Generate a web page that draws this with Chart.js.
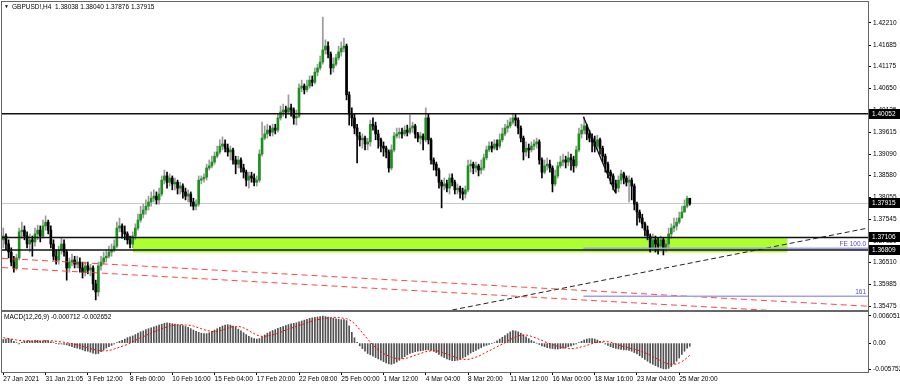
<!DOCTYPE html>
<html>
<head>
<meta charset="utf-8">
<script src="https://cdn.jsdelivr.net/npm/chart.js@4.4.1/dist/chart.umd.min.js"></script>
<style>
  body { margin: 0; background: #fff; }
  #wrap { position: relative; width: 900px; height: 387px; }
  canvas { position: absolute; left: 0; }
</style>
</head>
<body>
<div id="wrap">
  <canvas id="priceChart" width="900" height="311" style="top:0"></canvas>
  <canvas id="macdChart" width="900" height="76" style="top:311px"></canvas>
</div>
<script>
// GBPUSD H4 candles, 27 Jan - 26 Mar 2021
const opens = [
1.3705, 1.3714, 1.3695, 1.3676, 1.3652, 1.3638, 1.3662, 1.3724, 1.3728, 1.3714,
1.3695, 1.3705, 1.3700, 1.3719, 1.3728, 1.3714, 1.3738, 1.3747, 1.3728, 1.3695,
1.3666, 1.3657, 1.3681, 1.3695, 1.3676, 1.3638, 1.3652, 1.3657, 1.3647, 1.3652,
1.3638, 1.3628, 1.3643, 1.3633, 1.3638, 1.3600, 1.3581, 1.3643, 1.3652, 1.3662,
1.3666, 1.3676, 1.3681, 1.3690, 1.3733, 1.3738, 1.3724, 1.3719, 1.3705, 1.3695,
1.3714, 1.3733, 1.3752, 1.3766, 1.3776, 1.3785, 1.3795, 1.3804, 1.3809, 1.3800,
1.3814, 1.3847, 1.3857, 1.3842, 1.3852, 1.3838, 1.3842, 1.3828, 1.3833, 1.3819,
1.3809, 1.3814, 1.3795, 1.3785, 1.3790, 1.3847, 1.3850, 1.3854, 1.3876, 1.3881,
1.3890, 1.3904, 1.3914, 1.3928, 1.3933, 1.3923, 1.3914, 1.3919, 1.3895, 1.3885,
1.3895, 1.3876, 1.3866, 1.3847, 1.3857, 1.3852, 1.3842, 1.3847, 1.3909, 1.3947,
1.3957, 1.3966, 1.3961, 1.3971, 1.3966, 1.3995, 1.4009, 1.4014, 1.4009, 1.4019,
1.4014, 1.3995, 1.3999, 1.4066, 1.4071, 1.4062, 1.4071, 1.4085, 1.4080, 1.4104,
1.4114, 1.4128, 1.4157, 1.4166, 1.4147, 1.4114, 1.4123, 1.4138, 1.4152, 1.4161,
1.4166, 1.4050, 1.4004, 1.3995, 1.3971, 1.3952, 1.3943, 1.3947, 1.3933, 1.3938,
1.3980, 1.3976, 1.3957, 1.3943, 1.3928, 1.3923, 1.3914, 1.3876, 1.3919, 1.3952,
1.3957, 1.3961, 1.3957, 1.3966, 1.3961, 1.3971, 1.3976, 1.3957, 1.3947, 1.3952,
1.3943, 1.3995, 1.3943, 1.3895, 1.3885, 1.3871, 1.3842, 1.3833, 1.3838, 1.3828,
1.3852, 1.3842, 1.3824, 1.3828, 1.3819, 1.3814, 1.3824, 1.3881, 1.3885, 1.3876,
1.3881, 1.3871, 1.3876, 1.3900, 1.3919, 1.3928, 1.3923, 1.3933, 1.3928, 1.3943,
1.3957, 1.3971, 1.3976, 1.3985, 1.3995, 1.3990, 1.3971, 1.3947, 1.3914, 1.3923,
1.3919, 1.3928, 1.3933, 1.3938, 1.3895, 1.3866, 1.3881, 1.3885, 1.3876, 1.3838,
1.3857, 1.3881, 1.3890, 1.3895, 1.3890, 1.3900, 1.3895, 1.3881, 1.3919, 1.3957,
1.3966, 1.3976, 1.3957, 1.3947, 1.3938, 1.3928, 1.3943, 1.3923, 1.3904, 1.3885,
1.3866, 1.3857, 1.3838, 1.3828, 1.3847, 1.3862, 1.3852, 1.3842, 1.3847, 1.3833,
1.3790, 1.3771, 1.3757, 1.3743, 1.3728, 1.3714, 1.3686, 1.3705, 1.3695, 1.3690,
1.3705, 1.3686, 1.3695, 1.3719, 1.3733, 1.3738, 1.3747, 1.3757, 1.3771, 1.3785,
1.38038
];
const highs = [
1.3733, 1.3719, 1.3705, 1.3686, 1.3666, 1.3671, 1.3733, 1.3747, 1.3738, 1.3724,
1.3719, 1.3714, 1.3733, 1.3740, 1.3738, 1.3752, 1.3762, 1.3752, 1.3738, 1.3705,
1.3681, 1.3690, 1.3709, 1.3705, 1.3681, 1.3662, 1.3671, 1.3666, 1.3666, 1.3662,
1.3652, 1.3652, 1.3652, 1.3647, 1.3643, 1.3609, 1.3652, 1.3666, 1.3676, 1.3681,
1.3690, 1.3695, 1.3705, 1.3747, 1.3757, 1.3743, 1.3738, 1.3724, 1.3714, 1.3724,
1.3743, 1.3766, 1.3785, 1.3790, 1.3800, 1.3809, 1.3819, 1.3824, 1.3819, 1.3828,
1.3857, 1.3871, 1.3866, 1.3862, 1.3857, 1.3852, 1.3847, 1.3842, 1.3838, 1.3828,
1.3824, 1.3819, 1.3804, 1.3800, 1.3857, 1.3857, 1.3862, 1.3885, 1.3895, 1.3904,
1.3914, 1.3928, 1.3943, 1.3950, 1.3943, 1.3933, 1.3928, 1.3923, 1.3904, 1.3904,
1.3900, 1.3885, 1.3871, 1.3866, 1.3866, 1.3862, 1.3857, 1.3919, 1.3985, 1.3976,
1.3980, 1.3976, 1.3980, 1.3980, 1.4004, 1.4023, 1.4028, 1.4023, 1.4050, 1.4028,
1.4019, 1.4014, 1.4076, 1.4085, 1.4076, 1.4085, 1.4095, 1.4095, 1.4114, 1.4123,
1.4142, 1.4235, 1.4181, 1.4176, 1.4152, 1.4138, 1.4147, 1.4166, 1.4176, 1.4185,
1.4171, 1.4057, 1.4019, 1.4004, 1.3980, 1.3961, 1.3957, 1.3952, 1.3947, 1.3990,
1.3995, 1.3985, 1.3966, 1.3947, 1.3938, 1.3928, 1.3919, 1.3931, 1.3961, 1.3971,
1.3971, 1.3971, 1.3976, 1.3978, 1.4002, 1.3985, 1.3980, 1.3961, 1.3961, 1.3957,
1.4019, 1.4004, 1.3947, 1.3900, 1.3890, 1.3876, 1.3847, 1.3852, 1.3847, 1.3862,
1.3862, 1.3847, 1.3838, 1.3833, 1.3828, 1.3833, 1.3895, 1.3895, 1.3890, 1.3890,
1.3885, 1.3895, 1.3909, 1.3928, 1.3938, 1.3938, 1.3943, 1.3943, 1.3957, 1.3971,
1.3980, 1.3990, 1.3995, 1.4004, 1.4004, 1.3995, 1.3976, 1.3952, 1.3938, 1.3933,
1.3938, 1.3943, 1.3947, 1.3943, 1.3900, 1.3895, 1.3900, 1.3895, 1.3881, 1.3871,
1.3890, 1.3904, 1.3909, 1.3904, 1.3914, 1.3909, 1.3904, 1.3928, 1.3971, 1.3980,
1.3997, 1.3980, 1.3966, 1.3957, 1.3952, 1.3954, 1.3947, 1.3928, 1.3909, 1.3890,
1.3871, 1.3862, 1.3847, 1.3857, 1.3871, 1.3866, 1.3857, 1.3857, 1.3852, 1.3838,
1.3795, 1.3776, 1.3766, 1.3747, 1.3738, 1.3719, 1.3719, 1.3714, 1.3709, 1.3714,
1.3709, 1.3705, 1.3733, 1.3743, 1.3757, 1.3757, 1.3771, 1.3785, 1.3800, 1.3809,
1.38040
];
const lows = [
1.3686, 1.3681, 1.3662, 1.3643, 1.3628, 1.3633, 1.3657, 1.3709, 1.3705, 1.3686,
1.3676, 1.3666, 1.3690, 1.3705, 1.3700, 1.3709, 1.3728, 1.3719, 1.3686, 1.3657,
1.3647, 1.3647, 1.3671, 1.3666, 1.3609, 1.3628, 1.3643, 1.3638, 1.3638, 1.3628,
1.3614, 1.3619, 1.3624, 1.3619, 1.3586, 1.3562, 1.3571, 1.3633, 1.3647, 1.3652,
1.3662, 1.3666, 1.3676, 1.3686, 1.3724, 1.3709, 1.3705, 1.3695, 1.3686, 1.3686,
1.3705, 1.3728, 1.3747, 1.3757, 1.3766, 1.3776, 1.3785, 1.3795, 1.3790, 1.3790,
1.3809, 1.3838, 1.3828, 1.3833, 1.3824, 1.3824, 1.3814, 1.3814, 1.3804, 1.3800,
1.3795, 1.3785, 1.3776, 1.3776, 1.3785, 1.3838, 1.3842, 1.3847, 1.3871, 1.3876,
1.3885, 1.3900, 1.3909, 1.3919, 1.3914, 1.3904, 1.3895, 1.3885, 1.3862, 1.3876,
1.3866, 1.3852, 1.3833, 1.3828, 1.3842, 1.3833, 1.3833, 1.3842, 1.3904, 1.3943,
1.3947, 1.3952, 1.3952, 1.3957, 1.3961, 1.3990, 1.3999, 1.3995, 1.4004, 1.3999,
1.3980, 1.3978, 1.3995, 1.4057, 1.4052, 1.4057, 1.4066, 1.4071, 1.4076, 1.4095,
1.4109, 1.4123, 1.4147, 1.4138, 1.4099, 1.4104, 1.4119, 1.4133, 1.4142, 1.4152,
1.4038, 1.3978, 1.3976, 1.3957, 1.3888, 1.3928, 1.3923, 1.3919, 1.3919, 1.3928,
1.3966, 1.3943, 1.3923, 1.3914, 1.3904, 1.3900, 1.3866, 1.3871, 1.3914, 1.3947,
1.3947, 1.3947, 1.3952, 1.3952, 1.3957, 1.3961, 1.3947, 1.3938, 1.3933, 1.3919,
1.3938, 1.3933, 1.3885, 1.3871, 1.3857, 1.3828, 1.3781, 1.3824, 1.3819, 1.3814,
1.3833, 1.3814, 1.3814, 1.3804, 1.3800, 1.3804, 1.3819, 1.3866, 1.3862, 1.3866,
1.3857, 1.3862, 1.3871, 1.3895, 1.3914, 1.3914, 1.3919, 1.3919, 1.3923, 1.3938,
1.3952, 1.3961, 1.3971, 1.3980, 1.3976, 1.3957, 1.3938, 1.3895, 1.3904, 1.3900,
1.3914, 1.3919, 1.3923, 1.3885, 1.3852, 1.3862, 1.3871, 1.3866, 1.3819, 1.3833,
1.3852, 1.3876, 1.3881, 1.3876, 1.3881, 1.3871, 1.3866, 1.3876, 1.3914, 1.3947,
1.3957, 1.3943, 1.3938, 1.3914, 1.3914, 1.3919, 1.3909, 1.3890, 1.3866, 1.3852,
1.3838, 1.3824, 1.3816, 1.3819, 1.3838, 1.3838, 1.3833, 1.3795, 1.3800, 1.3776,
1.3740, 1.3747, 1.3733, 1.3714, 1.3705, 1.3676, 1.3681, 1.3676, 1.3671, 1.3681,
1.3669, 1.3676, 1.3686, 1.3709, 1.3724, 1.3728, 1.3743, 1.3762, 1.3771, 1.3781,
1.37876
];
const closes = [
1.3714, 1.3695, 1.3676, 1.3652, 1.3638, 1.3662, 1.3724, 1.3728, 1.3714, 1.3695,
1.3705, 1.3700, 1.3719, 1.3728, 1.3714, 1.3738, 1.3747, 1.3728, 1.3695, 1.3666,
1.3657, 1.3681, 1.3695, 1.3676, 1.3638, 1.3652, 1.3657, 1.3647, 1.3652, 1.3638,
1.3628, 1.3643, 1.3633, 1.3638, 1.3600, 1.3581, 1.3643, 1.3652, 1.3662, 1.3666,
1.3676, 1.3681, 1.3690, 1.3733, 1.3738, 1.3724, 1.3719, 1.3705, 1.3695, 1.3714,
1.3733, 1.3752, 1.3766, 1.3776, 1.3785, 1.3795, 1.3804, 1.3809, 1.3800, 1.3814,
1.3847, 1.3857, 1.3842, 1.3852, 1.3838, 1.3842, 1.3828, 1.3833, 1.3819, 1.3809,
1.3814, 1.3795, 1.3785, 1.3790, 1.3847, 1.3850, 1.3854, 1.3876, 1.3881, 1.3890,
1.3904, 1.3914, 1.3928, 1.3933, 1.3923, 1.3914, 1.3919, 1.3895, 1.3885, 1.3895,
1.3876, 1.3866, 1.3847, 1.3857, 1.3852, 1.3842, 1.3847, 1.3909, 1.3947, 1.3957,
1.3966, 1.3961, 1.3971, 1.3966, 1.3995, 1.4009, 1.4014, 1.4009, 1.4019, 1.4014,
1.3995, 1.3999, 1.4066, 1.4071, 1.4062, 1.4071, 1.4085, 1.4080, 1.4104, 1.4114,
1.4128, 1.4157, 1.4166, 1.4147, 1.4114, 1.4123, 1.4138, 1.4152, 1.4161, 1.4166,
1.4050, 1.4004, 1.3995, 1.3971, 1.3952, 1.3943, 1.3947, 1.3933, 1.3938, 1.3980,
1.3976, 1.3957, 1.3943, 1.3928, 1.3923, 1.3914, 1.3876, 1.3919, 1.3952, 1.3957,
1.3961, 1.3957, 1.3966, 1.3961, 1.3971, 1.3976, 1.3957, 1.3947, 1.3952, 1.3943,
1.3995, 1.3943, 1.3895, 1.3885, 1.3871, 1.3842, 1.3833, 1.3838, 1.3828, 1.3852,
1.3842, 1.3824, 1.3828, 1.3819, 1.3814, 1.3824, 1.3881, 1.3885, 1.3876, 1.3881,
1.3871, 1.3876, 1.3900, 1.3919, 1.3928, 1.3923, 1.3933, 1.3928, 1.3943, 1.3957,
1.3971, 1.3976, 1.3985, 1.3995, 1.3990, 1.3971, 1.3947, 1.3914, 1.3923, 1.3919,
1.3928, 1.3933, 1.3938, 1.3895, 1.3866, 1.3881, 1.3885, 1.3876, 1.3838, 1.3857,
1.3881, 1.3890, 1.3895, 1.3890, 1.3900, 1.3895, 1.3881, 1.3919, 1.3957, 1.3966,
1.3976, 1.3957, 1.3947, 1.3938, 1.3928, 1.3943, 1.3923, 1.3904, 1.3885, 1.3866,
1.3857, 1.3838, 1.3828, 1.3847, 1.3862, 1.3852, 1.3842, 1.3847, 1.3833, 1.3790,
1.3771, 1.3757, 1.3743, 1.3728, 1.3714, 1.3686, 1.3705, 1.3695, 1.3690, 1.3705,
1.3686, 1.3695, 1.3719, 1.3733, 1.3738, 1.3747, 1.3757, 1.3771, 1.3785, 1.3804,
1.37915
];

// MACD(12,26,9), values in units of 0.0001
const macdHist = [
8, 9, 10, 8, 4, 1, -2,
2, 4, 5, 5, 5, 6, 6, 5, 5, 6, 5, 3,
1, -1, -2, -2, -3, -4,
-6, -8, -10, -11, -13, -15, -17, -18, -20, -22, -24, -23, -19,
-15, -11, -8, -5, -2, 1,
4, 6, 9, 12, 14, 16, 19, 22, 25, 27, 30, 32, 34, 36, 38, 40, 42, 44, 45,
44, 43, 42, 41, 40, 39, 37, 35,
32, 29, 26, 24, 22, 21, 21,
23, 26, 29, 32, 35, 38, 40, 41, 40, 38,
35, 31, 27, 23, 19, 15, 12, 10, 9, 10,
14, 18, 22, 25, 28, 30, 33, 35, 37, 39, 41, 43, 44, 45, 47, 49, 51, 53, 55, 56, 57, 58, 59, 60,
59, 58, 56, 55, 54, 53, 52, 52, 50,
38, 24, 12, 2, -6, -12, -18, -23, -26, -29, -32, -35, -38, -41, -44, -46, -47,
-45, -42, -38, -34, -30, -26, -23, -21, -19, -18, -17,
-16, -15, -15, -16, -18,
-21, -25, -29, -32, -35, -37, -39, -39, -38, -36, -33, -30, -26,
-22, -19, -16, -13, -10, -7, -5, -3, -1, 1,
5, 9, 13, 17, 21, 25, 28,
27, 25, 22, 18, 14, 10, 6, 3, 0,
-3, -6, -8, -10, -11, -12, -13, -13, -12, -11, -10, -8, -6, -4, -2,
1, 4, 7, 9, 10, 10, 9, 7, 4, 1,
-2, -5, -8, -10, -12, -13, -14, -15, -15, -16,
-18, -21, -24, -28, -32, -36, -40, -44, -47, -50, -53, -55, -57, -57, -56,
-52, -46, -40, -33, -25, -18, -11, -7
];
const macdSignal = [
12, 11, 10, 9, 8, 7, 6, 6, 5, 5, 5, 4, 4, 4, 4, 5, 5, 5, 5,
5, 4, 3, 3, 2, 1,
0, -1, -2, -4, -5, -7, -9, -10, -12, -14, -15, -16, -17,
-17, -17, -16, -15, -13, -11,
-9, -7, -5, -3, 0, 3, 6, 9, 12, 14, 17, 20, 22, 25, 27, 30, 32, 34, 36,
38, 39, 40, 40, 41, 41, 40, 40,
39, 38, 36, 34, 32, 30, 28,
27, 26, 25, 26, 27, 29, 31, 33, 35, 37,
37, 37, 36, 34, 31, 28, 24, 21, 18, 16,
15, 15, 16, 17, 18, 20, 22, 24, 27, 29, 31, 33, 35, 37, 39, 41, 43, 45, 47, 49, 51, 52, 53, 54,
55, 56, 56, 57, 57, 57, 56, 55, 54,
52, 48, 43, 37, 30, 23, 16, 9, 2, -4, -10, -15, -19, -23, -26, -29, -31,
-33, -34, -35, -35, -34, -33, -31, -29, -27, -25, -23,
-21, -19, -18, -17, -17,
-17, -18, -20, -22, -24, -27, -29, -31, -33, -35, -36, -36, -36,
-35, -33, -31, -29, -26, -23, -20, -17, -14, -11,
-8, -5, -2, 1, 5, 8, 11,
14, 16, 17, 18, 18, 17, 15, 13, 11,
8, 6, 3, 1, -1, -3, -5, -7, -9, -10, -11, -12, -12, -12, -11,
-10, -8, -7, -5, -3, -1, 1, 2, 3, 4,
4, 3, 2, 0, -2, -4, -6, -8, -9, -11,
-12, -13, -15, -17, -19, -21, -24, -27, -30, -33, -36, -39, -42, -45, -46,
-47, -47, -46, -44, -41, -37, -32, -27
];

// подписи осей
const tickLabels = ['27 Jan 2021', '31 Jan 21:05', '3 Feb 12:00', '8 Feb 00:00', '10 Feb 16:00',
  '15 Feb 04:00', '17 Feb 20:00', '22 Feb 08:00', '25 Feb 00:00', '1 Mar 12:00', '4 Mar 04:00',
  '8 Mar 20:00', '11 Mar 12:00', '16 Mar 00:00', '18 Mar 16:00', '23 Mar 04:00', '25 Mar 20:00'];
const priceTicks = [1.42210, 1.41685, 1.41175, 1.40650, 1.40125, 1.39615, 1.39090, 1.38580,
  1.38055, 1.37545, 1.37020, 1.36510, 1.35985, 1.35475];
const macdTicks = [0.006051, 0, -0.005752];

// объекты на графике (бар, цена)
const levelLines = [1.40052, 1.37106, 1.36809];
const priceTags = [1.40052, 1.37915, 1.37106, 1.36809];
const bidPrice = 1.37915;
const zoneBars = [49.1, 297];
const zonePrices = [1.37106, 1.3675];
const trendUp = [[170, 1.3538], [327.5, 1.3733]];
const trendDown = [[219.7, 1.3998], [231.7, 1.3818]];
const redUpper = [[-0.5, 1.3661], [327.5, 1.3547]];
const redLower = [[-0.5, 1.3639], [327.5, 1.3524]];
const feStart = 219.7;
const feLevels = [['FE 100.0', 1.3685], ['161', 1.3571]];
const header = 'GBPUSD!,H4  1.38038 1.38040 1.37876 1.37915';
const macdTitle = 'MACD(12,26,9) -0.000712 -0.002652';

const TOTAL_BARS = 328;
const FONT = '"Liberation Sans", Arial, sans-serif';
const labels = Array.from({ length: TOTAL_BARS }, (_, i) => i);

const isBull = i => closes[i] >= opens[i];
const wicks = lows.map((l, i) => [Math.min(l, opens[i], closes[i]), Math.max(highs[i], opens[i], closes[i])]);
const bodies = opens.map((o, i) => [o, closes[i]]);

// фиксированная ширина шкалы, без лишних отступов
function fixWidth(w) {
  return s => { s.width = w; s.paddingTop = 0; s.paddingBottom = 0; };
}

function line(ctx, chart, pts) {
  const { x, y } = chart.scales;
  ctx.beginPath();
  ctx.moveTo(x.getPixelForValue(pts[0][0]), y.getPixelForValue(pts[0][1]));
  ctx.lineTo(x.getPixelForValue(pts[1][0]), y.getPixelForValue(pts[1][1]));
  ctx.stroke();
}

const priceOverlay = {
  id: 'priceOverlay',
  beforeDatasetsDraw(chart) {
    const { ctx, chartArea: a, scales: { x, y } } = chart;
    ctx.save();
    ctx.beginPath();
    ctx.rect(a.left, a.top, a.right - a.left, a.bottom - a.top);
    ctx.clip();
    // зелёная зона
    const zx1 = x.getPixelForValue(zoneBars[0]);
    const zx2 = x.getPixelForValue(zoneBars[1]);
    const zy1 = y.getPixelForValue(zonePrices[0]);
    const zy2 = y.getPixelForValue(zonePrices[1]);
    ctx.fillStyle = '#adff2f';
    ctx.fillRect(zx1, zy1, zx2 - zx1, zy2 - zy1);
    // линия Bid
    const by = Math.round(y.getPixelForValue(bidPrice)) + 0.5;
    ctx.strokeStyle = '#c8c8c8';
    ctx.lineWidth = 1;
    ctx.beginPath();
    ctx.moveTo(a.left, by);
    ctx.lineTo(a.right, by);
    ctx.stroke();
    ctx.restore();
  },
  afterDatasetsDraw(chart) {
    const { ctx, chartArea: a, scales: { x, y } } = chart;
    ctx.save();
    ctx.beginPath();
    ctx.rect(a.left, a.top, a.right - a.left, a.bottom - a.top);
    ctx.clip();

    // красные пунктирные линии
    ctx.strokeStyle = 'rgba(255, 40, 40, 0.85)';
    ctx.lineWidth = 1;
    ctx.setLineDash([6, 4]);
    line(ctx, chart, redUpper);
    line(ctx, chart, redLower);

    // восходящая пунктирная трендовая
    ctx.strokeStyle = '#222';
    ctx.setLineDash([5, 3]);
    line(ctx, chart, trendUp);
    ctx.setLineDash([]);

    // уровни FE
    const fx = x.getPixelForValue(feStart);
    ctx.strokeStyle = '#a0a0f0';
    ctx.lineWidth = 1.5;
    feLevels.forEach(([, v]) => {
      const fy = y.getPixelForValue(v);
      ctx.beginPath();
      ctx.moveTo(fx, fy);
      ctx.lineTo(a.right, fy);
      ctx.stroke();
    });

    // горизонтальные уровни
    ctx.strokeStyle = '#111';
    ctx.lineWidth = 1.5;
    levelLines.forEach(v => {
      const ly = y.getPixelForValue(v);
      ctx.beginPath();
      ctx.moveTo(a.left, ly);
      ctx.lineTo(a.right, ly);
      ctx.stroke();
    });

    // нисходящая трендовая
    ctx.lineWidth = 1.3;
    line(ctx, chart, trendDown);

    // подписи FE
    ctx.font = '6.5px ' + FONT;
    ctx.fillStyle = '#5050c8';
    ctx.textAlign = 'right';
    ctx.textBaseline = 'bottom';
    feLevels.forEach(([t, v]) => {
      ctx.fillText(t, a.right - 2, y.getPixelForValue(v) - 1);
    });
    ctx.restore();
  },
  afterDraw(chart) {
    const { ctx, chartArea: a, scales: { y } } = chart;
    ctx.save();
    // рамка окна
    ctx.strokeStyle = '#666';
    ctx.lineWidth = 1;
    ctx.strokeRect(a.left - 0.5, a.top - 0.5, a.right - a.left + 1, a.bottom - a.top + 1);

    // метки цен справа
    ctx.font = '6.5px ' + FONT;
    ctx.textBaseline = 'middle';
    ctx.textAlign = 'left';
    priceTags.forEach(v => {
      const ty = Math.round(y.getPixelForValue(v));
      ctx.fillStyle = '#000';
      ctx.fillRect(a.right + 1, ty - 5, 31, 10);
      ctx.fillStyle = '#fff';
      ctx.fillText(v.toFixed(5), a.right + 4, ty);
    });

    // заголовок
    ctx.fillStyle = '#000';
    ctx.font = '5px ' + FONT;
    ctx.fillText('▼', 4, 7);
    ctx.font = '6.5px ' + FONT;
    ctx.fillText(header, 12, 7);
    ctx.restore();
  }
};

const macdOverlay = {
  id: 'macdOverlay',
  afterDraw(chart) {
    const { ctx, chartArea: a } = chart;
    ctx.save();
    ctx.strokeStyle = '#666';
    ctx.lineWidth = 1;
    ctx.strokeRect(a.left - 0.5, a.top - 0.5, a.right - a.left + 1, a.bottom - a.top + 1);
    ctx.fillStyle = '#000';
    ctx.font = '6.5px ' + FONT;
    ctx.textBaseline = 'middle';
    ctx.fillText(macdTitle, 4, a.top + 5);
    ctx.restore();
  }
};

const rightAxis = {
  position: 'right',
  afterFit: fixWidth(32),
  border: { display: true, color: '#666' },
  grid: { drawOnChartArea: false, drawTicks: true, tickLength: 3, color: '#000' },
  ticks: { autoSkip: false, padding: 2, color: '#000', font: { family: FONT, size: 6.5 } }
};

// Основной график: свечи
new Chart(document.getElementById('priceChart'), {
  type: 'bar',
  data: {
    labels: labels,
    datasets: [
      {
        data: bodies,
        backgroundColor: opens.map((o, i) => isBull(i) ? '#1a931a' : '#000'),
        barThickness: 2,
        minBarLength: 1,
        grouped: false,
        order: 1
      },
      {
        data: wicks,
        backgroundColor: opens.map((o, i) => isBull(i) ? '#9a9a9a' : '#000'),
        barThickness: 1,
        grouped: false,
        order: 2
      }
    ]
  },
  options: {
    responsive: false,
    animation: false,
    devicePixelRatio: 1,
    layout: { padding: { left: 2, top: 2, right: 0, bottom: 1 } },
    plugins: { legend: { display: false }, tooltip: { enabled: false } },
    scales: {
      x: { display: false, offset: true },
      y: Object.assign({}, rightAxis, {
        min: 1.35380,
        max: 1.42709,
        afterBuildTicks: s => { s.ticks = priceTicks.map(v => ({ value: v })); },
        ticks: Object.assign({}, rightAxis.ticks, { callback: v => v.toFixed(5) })
      })
    }
  },
  plugins: [priceOverlay]
});

// MACD
new Chart(document.getElementById('macdChart'), {
  type: 'bar',
  data: {
    labels: labels,
    datasets: [
      {
        type: 'line',
        data: macdSignal.map(v => v / 10000),
        borderColor: '#ff0000',
        borderWidth: 1,
        borderDash: [2, 2],
        pointRadius: 0,
        fill: false,
        order: 1
      },
      {
        data: macdHist.map(v => v / 10000),
        backgroundColor: '#505050',
        barThickness: 1,
        order: 2
      }
    ]
  },
  options: {
    responsive: false,
    animation: false,
    devicePixelRatio: 1,
    layout: { padding: { left: 2, top: 1, right: 0, bottom: 0 } },
    plugins: { legend: { display: false }, tooltip: { enabled: false } },
    scales: {
      x: {
        offset: true,
        afterFit: s => { s.height = 15; s.paddingLeft = 0; s.paddingRight = 0; },
        border: { display: false },
        grid: {
          drawOnChartArea: false,
          offset: false,
          tickLength: 3,
          color: c => (c.index % 16 === 0 && tickLabels[c.index / 16]) ? '#000' : 'rgba(0,0,0,0)'
        },
        ticks: {
          autoSkip: false,
          maxRotation: 0,
          align: 'start',
          padding: 0,
          color: '#000',
          font: { family: FONT, size: 6.5 },
          callback: (v, i) => (i % 16 === 0 && tickLabels[i / 16]) ? tickLabels[i / 16] : ''
        }
      },
      y: Object.assign({}, rightAxis, {
        min: -0.0064,
        max: 0.0069,
        afterBuildTicks: s => { s.ticks = macdTicks.map(v => ({ value: v })); },
        ticks: Object.assign({}, rightAxis.ticks, { callback: v => v === 0 ? '0.00' : v.toFixed(6) })
      })
    }
  },
  plugins: [macdOverlay]
});
</script>
</body>
</html>
